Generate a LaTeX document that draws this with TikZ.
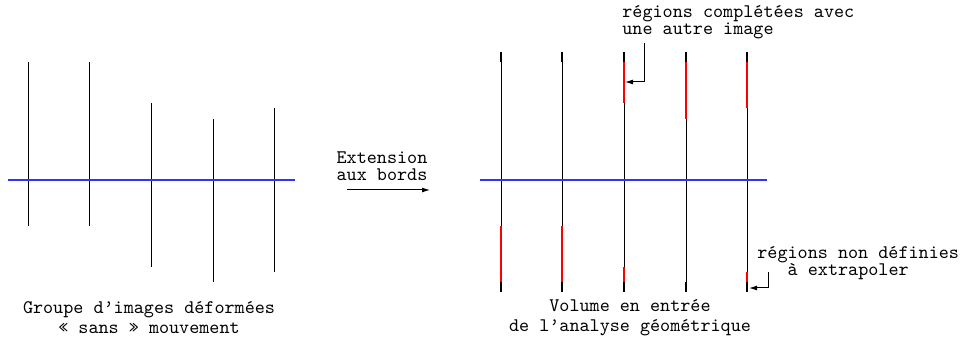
\documentclass[tikz,border=0pt]{standalone}
\usepackage{fontspec}
\usetikzlibrary{arrows.meta}

% Define colours
\definecolor{axisColour}{RGB}{50,50,255}
\definecolor{fillColour}{RGB}{255,0,0}
\definecolor{sliceColour}{RGB}{0,0,0}

\begin{document}
\begin{tikzpicture}[x=0.5pt, y=-0.5pt,
    noteText/.style={font=\ttfamily\fontsize{9.6}{8.6}\selectfont, inner sep=0pt},
    captionText/.style={font=\ttfamily\fontsize{9.6}{10}\selectfont, align=center, inner sep=0pt},
    arrowTip/.style={-{Latex[length=4pt, width=2.5pt]}, line width=0.5pt}]

    % Define image extents (x / top / bottom) and shift of the right group
    \def\imageList{28/62/226, 89/62/226, 151/103/267, 213/119/282, 274/108/272}
    \def\groupShift{473}

    % Fix picture size
    \useasboundingbox (0,0) rectangle (962,341);

    % Draw deformed images, left group
    \foreach \x/\t/\b in \imageList
        \draw[sliceColour, line width=0.5pt] (\x,\t) -- (\x,\b);

    % Draw extended volume, right group
    \foreach \x/\t/\b in \imageList {
        \draw[sliceColour, line width=0.5pt] (\x+\groupShift,52) -- (\x+\groupShift,292);
        \draw[fillColour, line width=1pt] (\x+\groupShift,62) -- (\x+\groupShift,\t);
        \draw[fillColour, line width=1pt] (\x+\groupShift,\b) -- (\x+\groupShift,282);
        \draw[sliceColour, line width=1pt] (\x+\groupShift,52) -- (\x+\groupShift,62);
        \draw[sliceColour, line width=1pt] (\x+\groupShift,282) -- (\x+\groupShift,292);
    }

    % Draw blue reference lines
    \draw[axisColour, line width=0.6pt] (8,180) -- (295,180);
    \draw[axisColour, line width=0.6pt] (480,180) -- (767,180);

    % Arrow between the two groups
    \node[noteText, align=center] (stepLabel) at (382,166) {Extension\\aux bords};
    \coordinate (stepStart) at (347,190);
    \coordinate (stepEnd) at (430,190);
    \draw[arrowTip] (stepStart) -- (stepEnd);

    % Note on completed regions
    \node[noteText, align=left, anchor=west] (noteTop) at (622,22) {régions complétées avec\\une autre image};
    \coordinate (topBend) at (644,82);
    \coordinate (topMark) at (625,82);
    \draw[arrowTip] ([yshift=-2pt]noteTop.south -| topBend) -- (topBend) -- (topMark);

    % Note on undefined regions
    \node[noteText, align=center, anchor=west] (noteBottom) at (757,263) {régions non définies\\à extrapoler\hspace*{10pt}};
    \coordinate (bottomBend) at (768,288);
    \coordinate (bottomMark) at (749,288);
    \draw[arrowTip] ([yshift=4pt]noteBottom.south -| bottomBend) -- (bottomBend) -- (bottomMark);

    % Captions
    \node[captionText] (captionLeft) at (149,318) {Groupe d’images déformées\\« sans » mouvement};
    \node[captionText] (captionRight) at (630,318) {Volume en entrée\\de l’analyse géométrique};

\end{tikzpicture}
\end{document}
